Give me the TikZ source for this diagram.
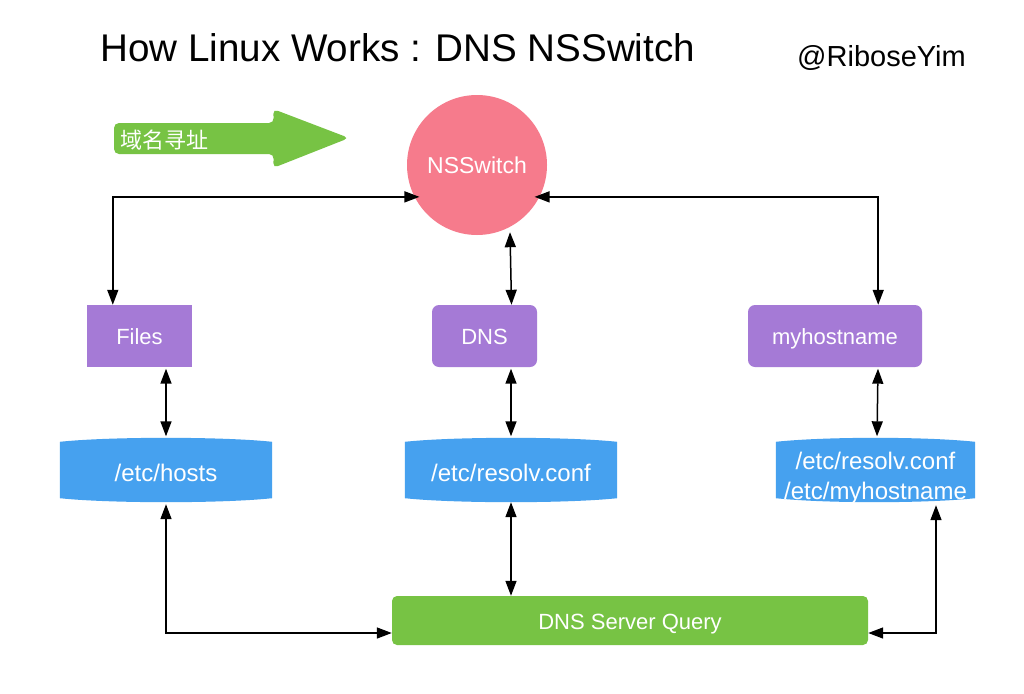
\documentclass[tikz,border=0pt]{standalone}
\usepackage{fontspec}
\setmainfont{Liberation Sans}
\newfontfamily\cjkfont{Noto Sans CJK SC}
\usetikzlibrary{arrows.meta}
\pgfdeclarelayer{bg}
\pgfsetlayers{bg,main}
\definecolor{nsspink}{HTML}{F67B8C}
\definecolor{boxpurple}{HTML}{A57AD6}
\definecolor{cylblue}{HTML}{46A1EF}
\definecolor{qgreen}{HTML}{77C344}
\newcommand\cylfill[1]{%
  \fill[cylblue] ([yshift=-4pt]#1.north west) .. controls +(50,-5.3) and +(-50,-5.3) .. ([yshift=-4pt]#1.north east)
    -- ([yshift=4pt]#1.south east) .. controls +(-50,5.3) and +(50,5.3) .. ([yshift=4pt]#1.south west) -- cycle;}
\tikzset{
  pbox/.style={fill=boxpurple, text=white, minimum height=62pt, inner sep=0pt, font=\fontsize{22}{26}\selectfont, text height=17.75pt, text depth=0pt},
  cyl/.style={minimum height=64pt, inner sep=0pt, text=white, font=\fontsize{24}{30}\selectfont},
  link/.style={draw=black, line width=1.5pt, >={Triangle[length=15pt,width=11pt]}, <->},
}
\begin{document}
\begin{tikzpicture}[x=1pt,y=-1pt]
\useasboundingbox (0,0) rectangle (1024,693);
\begin{pgfonlayer}{bg}
\fill[white] (0,0) rectangle (1024,693);
\end{pgfonlayer}

% title and author
\node[anchor=base west, inner sep=0pt, font=\fontsize{38.6}{44}\selectfont] (title) at (100,61) {How Linux Works : DNS NSSwitch};
\node[anchor=base west, inner sep=0pt, font=\fontsize{29}{34}\selectfont] (author) at (797,66.5) {@RiboseYim};

% green arrow
\fill[qgreen, rounded corners=5pt] (114,123) -- (274,123) -- (273,109) -- (349,138) -- (273,168) -- (274,154) -- (114,154) -- cycle;
\node[anchor=west, inner sep=0pt, text=white, font=\cjkfont\fontsize{22}{26}\selectfont] (xun) at (120,140) {域名寻址};

% NSSwitch
\node[circle, fill=nsspink, minimum size=140pt, inner sep=0pt, text=white, font=\fontsize{23}{27}\selectfont, text height=16.5pt, text depth=0pt] (nss) at (477,165) {NSSwitch};

% modules
\node[pbox, minimum width=105pt] (files) at (139.5,336) {Files};
\node[pbox, minimum width=105pt, rounded corners=7pt] (dns) at (484.5,336) {DNS};
\node[pbox, minimum width=174pt, rounded corners=7pt] (myh) at (835,336) {myhostname};

% cylinders
\node[cyl, minimum width=212pt, text height=23.2pt, text depth=0pt] (hosts) at (166,470) {/etc/hosts};
\node[cyl, minimum width=212pt, text height=23.2pt, text depth=0pt] (resolv) at (511,470) {/etc/resolv.conf};
\node[cyl, minimum width=199pt] (c3) at (875.5,470) {};
\node[cyl, minimum height=0pt, align=center] (c3t) at ([yshift=-8pt]c3.center) {/etc/resolv.conf\\/etc/myhostname};
\begin{pgfonlayer}{bg}
\cylfill{hosts}
\cylfill{resolv}
\cylfill{c3}
\end{pgfonlayer}

% DNS server query
\node[fill=qgreen, rounded corners=5pt, minimum width=476pt, minimum height=49pt, inner sep=0pt, text=white, font=\fontsize{22}{26}\selectfont, text height=18.75pt, text depth=0pt] (dsq) at (630,620.5) {DNS Server Query};

% connectors
\draw[link, shorten <=-5pt] (nss.207) -| ([xshift=26pt]files.north west);
\draw[link, shorten <=-5pt] (nss.333) -| ([xshift=-44pt]myh.north east);
\draw[link] ([xshift=33pt,yshift=3pt]nss.south) -- ([xshift=27pt]dns.north);
\draw[link, shorten <=1.5pt, shorten >=1.5pt] (files.south -| hosts.north) -- (hosts.north);
\draw[link, shorten <=1.5pt, shorten >=1.5pt] (dns.south -| resolv.north) -- (resolv.north);
\draw[link, shorten <=1.5pt, shorten >=1.5pt] ([xshift=43pt]myh.south) -- ([xshift=1.5pt]c3.north);
\draw[link, shorten <=2pt] (hosts.south) |- ([yshift=-12.5pt]dsq.west);
\draw[link] (resolv.south) -- (resolv.south |- dsq.north);
\draw[link, shorten <=3pt] ([xshift=60.5pt]c3.south) |- ([yshift=-12.5pt]dsq.east);
\end{tikzpicture}
\end{document}
